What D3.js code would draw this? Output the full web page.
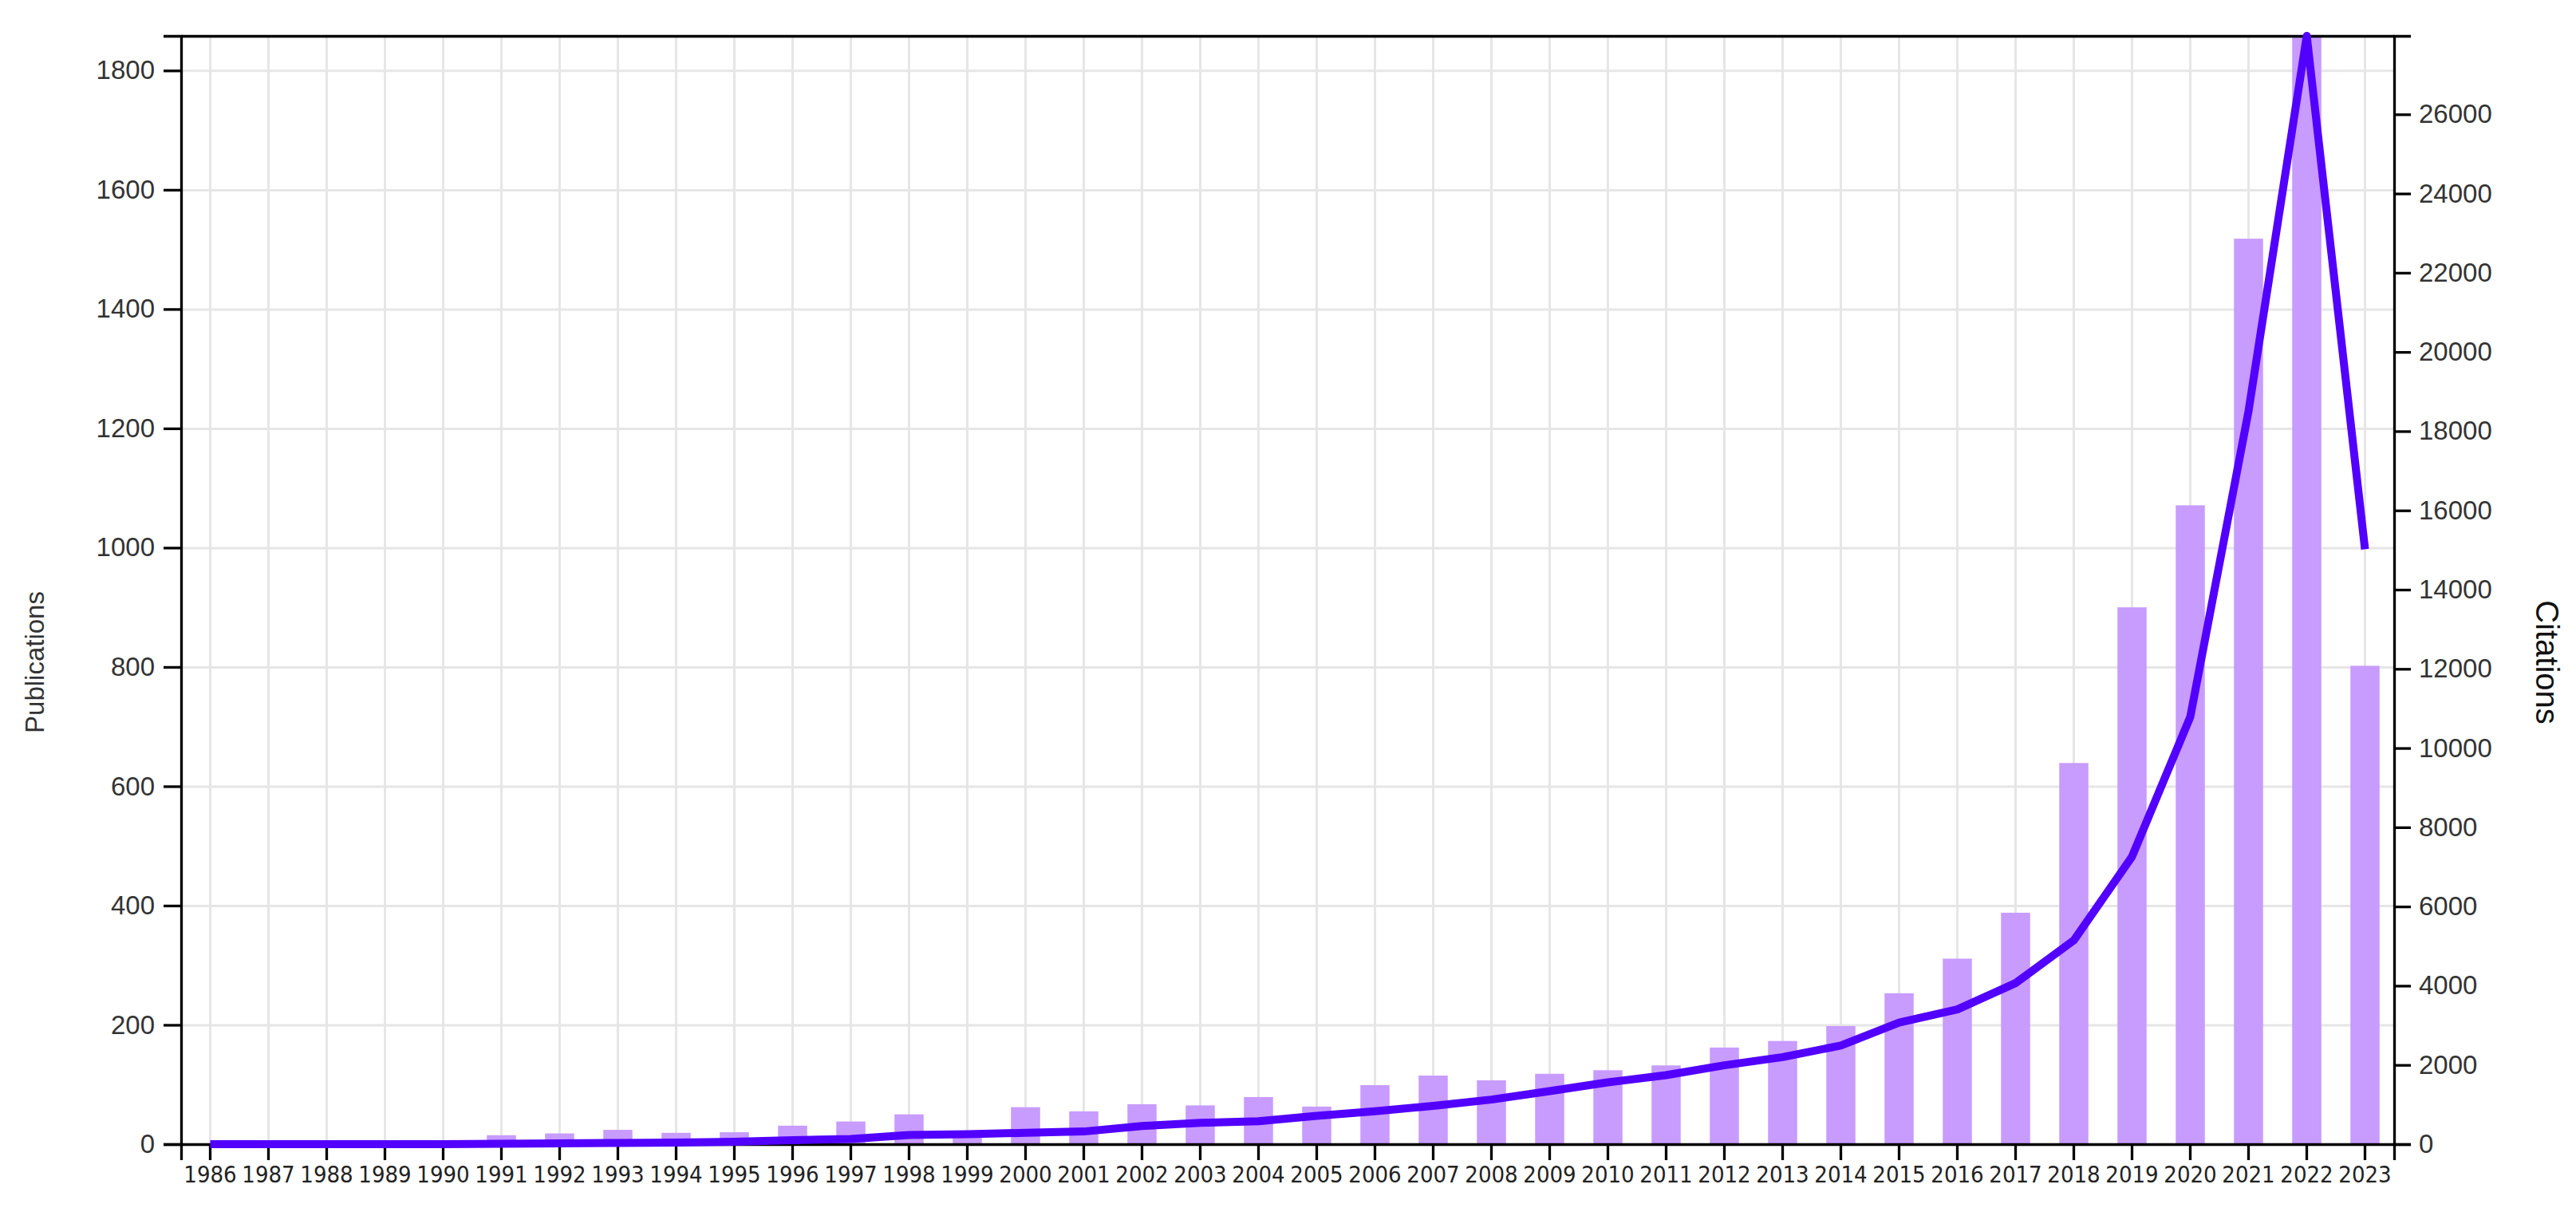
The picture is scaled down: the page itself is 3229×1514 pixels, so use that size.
<!DOCTYPE html>
<html lang="en">
<head>
<meta charset="utf-8">
<title>Publications and citations</title>
<script src="https://cdn.jsdelivr.net/npm/d3@7"></script>
<style>
body { margin: 0; background: #fff; }
.axis path, .axis line { stroke: #000; stroke-width: 3.3px; }
.yaxis text { font-family: "Liberation Sans", Arial, sans-serif; font-size: 33px; fill: #333; }
.xaxis text { font-family: "DejaVu Sans Condensed", "DejaVu Sans", sans-serif; font-stretch: condensed; font-size: 29px; fill: #222; }
.grid line { stroke: #e6e6e6; stroke-width: 3px; }
.grid path { display: none; }
</style>
</head>
<body>
<script>
var w = 3229, h = 1514;
var margin = {top: 45, right: 228, bottom: 80, left: 227};

var years = d3.range(1986, 2024);
var publications = [0, 0, 0, 0, 0, 15, 18, 24, 19, 20,
                    31, 38, 50, 21, 62, 55, 67, 65, 79, 63,
                    99, 115, 107, 118, 124, 132, 162, 173, 198, 253,
                    311, 388, 639, 900, 1071, 1518, 1858, 802];
var citations = [0, 0, 0, 0, 0, 10, 20, 30, 40, 60,
                 100, 130, 230, 252, 286, 320, 457, 538, 579, 715,
                 831, 967, 1125, 1341, 1560, 1743, 1992, 2199, 2490, 3071,
                 3402, 4066, 5145, 7261, 10788, 18506, 27980, 15020];
var leftTicks = [0, 200, 400, 600, 800, 1000, 1200, 1400, 1600, 1800];
var rightTicks = [0, 2000, 4000, 6000, 8000, 10000, 12000, 14000, 16000, 18000, 20000, 22000, 24000, 26000];

var x = d3.scaleBand()
          .domain(years)
          .range([margin.left, w - margin.right])
          .paddingInner(0.5)
          .paddingOuter(0.25);
var yL = d3.scaleLinear()
           .domain([0, d3.max(publications)])
           .range([h - margin.bottom, margin.top]);
var yR = d3.scaleLinear()
           .domain([0, d3.max(citations)])
           .range([h - margin.bottom, margin.top]);

var svg = d3.select("body").append("svg")
            .attr("width", w)
            .attr("height", h);

var plotH = h - margin.bottom - margin.top;
var plotW = w - margin.right - margin.left;

// grid
svg.append("g")
   .attr("class", "grid")
   .attr("transform", "translate(0," + margin.top + ")")
   .call(d3.axisBottom(x).tickSize(plotH).tickFormat(""));
svg.append("g")
   .attr("class", "grid")
   .attr("transform", "translate(" + margin.left + ",0)")
   .call(d3.axisRight(yL).tickValues(leftTicks).tickSize(plotW).tickFormat(""));

var data = years.map(function(y, i) { return {year: y, pub: publications[i], cit: citations[i]}; });

svg.selectAll("rect.bar")
   .data(data)
   .enter()
   .append("rect")
   .attr("class", "bar")
   .attr("x", function(d) { return x(d.year); })
   .attr("width", x.bandwidth())
   .attr("y", function(d) { return yL(d.pub); })
   .attr("height", function(d) { return yL(0) - yL(d.pub); })
   .attr("fill", "#c89bff");

// axes
svg.append("g")
   .attr("class", "axis xaxis")
   .attr("transform", "translate(0," + (h - margin.bottom) + ")")
   .call(d3.axisBottom(x).tickSize(20).tickSizeOuter(20).tickPadding(7));
svg.append("g")
   .attr("class", "axis")
   .attr("transform", "translate(0," + margin.top + ")")
   .call(d3.axisTop(x).tickValues([]).tickSizeOuter(0));
svg.append("g")
   .attr("class", "axis yaxis")
   .attr("transform", "translate(" + margin.left + ",0)")
   .call(d3.axisLeft(yL).tickValues(leftTicks).tickFormat(d3.format("d"))
           .tickSize(22).tickSizeOuter(22).tickPadding(11));
svg.append("g")
   .attr("class", "axis yaxis")
   .attr("transform", "translate(" + (w - margin.right) + ",0)")
   .call(d3.axisRight(yR).tickValues(rightTicks).tickFormat(d3.format("d"))
           .tickSize(21).tickSizeOuter(21).tickPadding(10));

// citations line
var line = d3.line()
             .x(function(d) { return x(d.year) + x.bandwidth() / 2; })
             .y(function(d) { return yR(d.cit); });
svg.append("path")
   .datum(data)
   .attr("d", line)
   .attr("fill", "none")
   .attr("stroke", "#5200ff")
   .attr("stroke-width", 10)
   .attr("stroke-linejoin", "round");

// axis titles
svg.append("text")
   .attr("transform", "translate(43," + 830 + ") rotate(-90)")
   .attr("text-anchor", "middle")
   .attr("dominant-baseline", "central")
   .attr("font-family", "Liberation Sans, Arial, sans-serif")
   .attr("font-size", "33px")
   .attr("fill", "#333")
   .text("Publications");
svg.append("text")
   .attr("transform", "translate(3193," + 830 + ") rotate(90)")
   .attr("text-anchor", "middle")
   .attr("dominant-baseline", "central")
   .attr("font-family", "Liberation Sans, Arial, sans-serif")
   .attr("font-size", "40px")
   .attr("fill", "#111")
   .text("Citations");
</script>
</body>
</html>
